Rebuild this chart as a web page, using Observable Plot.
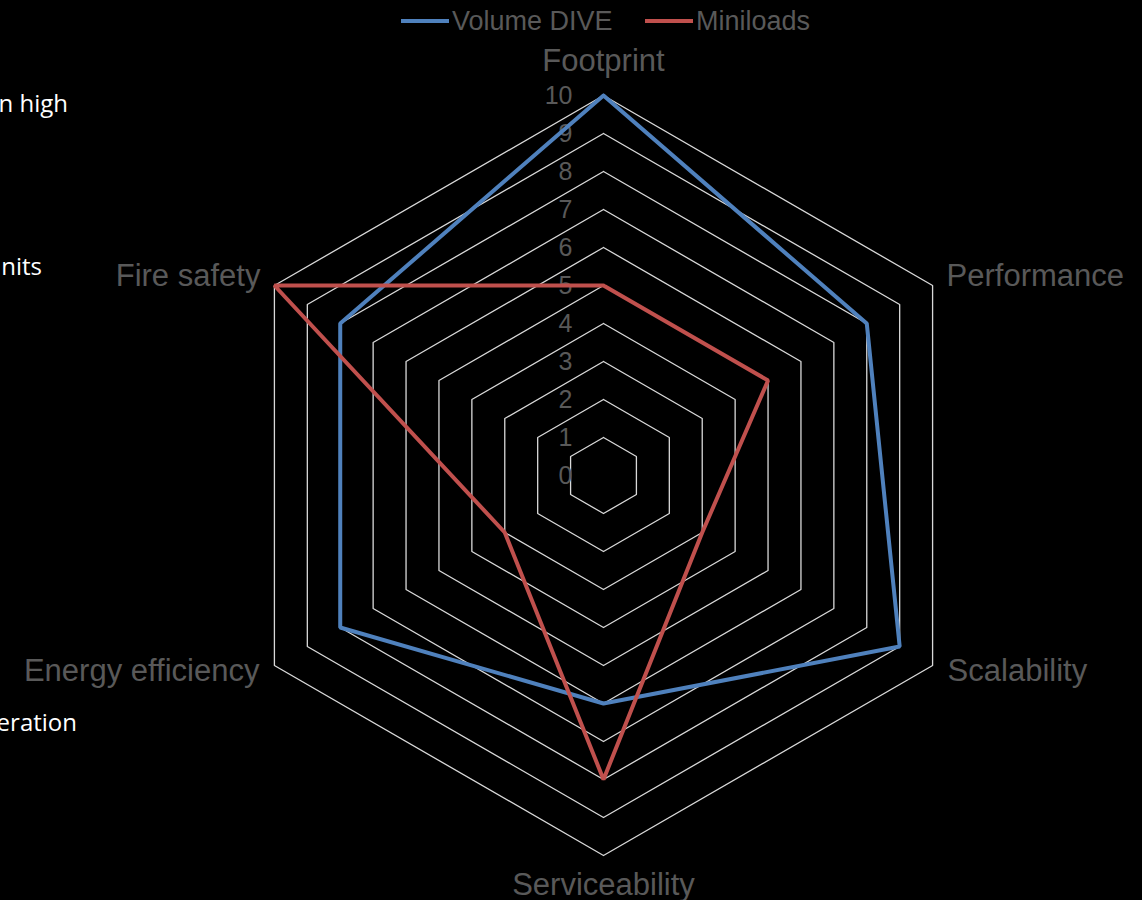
<!DOCTYPE html>
<html><head><meta charset="utf-8">
<script src="https://cdn.jsdelivr.net/npm/d3@7"></script>
<script src="https://cdn.jsdelivr.net/npm/@observablehq/plot@0.6"></script>
<style>
html,body{margin:0;padding:0;background:#000;}
#chart{position:relative;width:1142px;height:900px;overflow:hidden;}
</style></head><body><div id="chart"></div>
<script>
const categories = ["Footprint","Performance","Scalability","Serviceability","Energy efficiency","Fire safety"];
const volumeDive = [10, 8, 9, 6, 8, 8];
const miniloads = [5, 5, 3, 8, 3, 10];
const seriesNames = ["Volume DIVE", "Miniloads"];
const seriesColors = ["#4F81BD", "#C0504D"];
const tickValues = [0,1,2,3,4,5,6,7,8,9,10];
const sideNotes = ["n high", "nits", "eration"];

// layout / style config
const W = 1142, H = 900, CX = 603, CY = 475, PX_PER_UNIT = 38;
const labelStyle = [
  {anchor:"middle", dx:0,   dy:-34},
  {anchor:"start",  dx:14,  dy:-9},
  {anchor:"start",  dx:15,  dy:6},
  {anchor:"middle", dx:0,   dy:30},
  {anchor:"end",    dx:-15, dy:6},
  {anchor:"end",    dx:-14, dy:-9}
];
const gray = "#595959";
const font = "'Liberation Sans', Arial, sans-serif";

const n = categories.length;
const ang = i => (i % n) * 2 * Math.PI / n;
const px = (i, r) => r * Math.sin(ang(i));
const py = (i, r) => r * Math.cos(ang(i));

// grid rings (closed hexagons)
const gridData = [];
for (const k of tickValues.slice(1)) {
  for (let i = 0; i <= n; i++) gridData.push({ring: k, x: px(i, k), y: py(i, k)});
}
function seriesPoly(vals, name) {
  const out = [];
  for (let i = 0; i <= n; i++) out.push({series: name, x: px(i, vals[i % n]), y: py(i, vals[i % n])});
  return out;
}
const polyA = seriesPoly(volumeDive, seriesNames[0]);
const polyB = seriesPoly(miniloads, seriesNames[1]);

const labelMarks = categories.map((c, i) => Plot.text([c], {
  x: () => px(i, 10), y: () => py(i, 10), text: d => d,
  textAnchor: labelStyle[i].anchor, dx: labelStyle[i].dx, dy: labelStyle[i].dy,
  fontSize: 31, fill: gray, letterSpacing: 0.3
}));

const chart = Plot.plot({
  width: W, height: H,
  marginTop: 0, marginBottom: 0, marginLeft: 0, marginRight: 0,
  x: {domain: [-CX / PX_PER_UNIT, (W - CX) / PX_PER_UNIT], axis: null},
  y: {domain: [(CY - H) / PX_PER_UNIT, CY / PX_PER_UNIT], axis: null},
  style: {background: "#000", fontFamily: font, overflow: "visible"},
  marks: [
    Plot.line(gridData, {x: "x", y: "y", z: "ring", stroke: "#d9d9d9", strokeWidth: 1.3}),
    Plot.text(tickValues, {x: () => 0, y: d => d, text: d => String(d), textAnchor: "end", dx: -31, fontSize: 25, fill: gray}),
    Plot.line(polyA, {x: "x", y: "y", stroke: seriesColors[0], strokeWidth: 4, strokeLinejoin: "miter", curve: "linear"}),
    Plot.line(polyB, {x: "x", y: "y", stroke: seriesColors[1], strokeWidth: 4, strokeLinejoin: "miter", curve: "linear"}),
    ...labelMarks
  ]
});
document.getElementById("chart").appendChild(chart);

// legend at top
const svg = d3.select(chart);
const leg = svg.append("g").attr("font-family", font).attr("font-size", 27).attr("fill", gray).attr("text-anchor", "start");
const legendItems = [{x: 401}, {x: 645}];
seriesNames.forEach((s, i) => {
  const x0 = legendItems[i].x;
  leg.append("line").attr("x1", x0).attr("x2", x0 + 48).attr("y1", 21).attr("y2", 21)
    .attr("stroke", seriesColors[i]).attr("stroke-width", 4);
  leg.append("text").attr("x", x0 + 51).attr("y", 30).attr("text-anchor", "start").text(s);
});

// cut-off side notes (white), as in the reference
const notePos = [{x: 68, y: 112}, {x: 42, y: 275}, {x: 77, y: 731}];
const notes = svg.append("g").attr("font-family", "'Open Sans', 'Noto Sans', sans-serif").attr("font-size", 24).attr("fill", "#fff").attr("text-anchor", "end");
sideNotes.forEach((t, i) => notes.append("text").attr("x", notePos[i].x).attr("y", notePos[i].y).attr("text-anchor", "end").text(t));
</script>
</body></html>
